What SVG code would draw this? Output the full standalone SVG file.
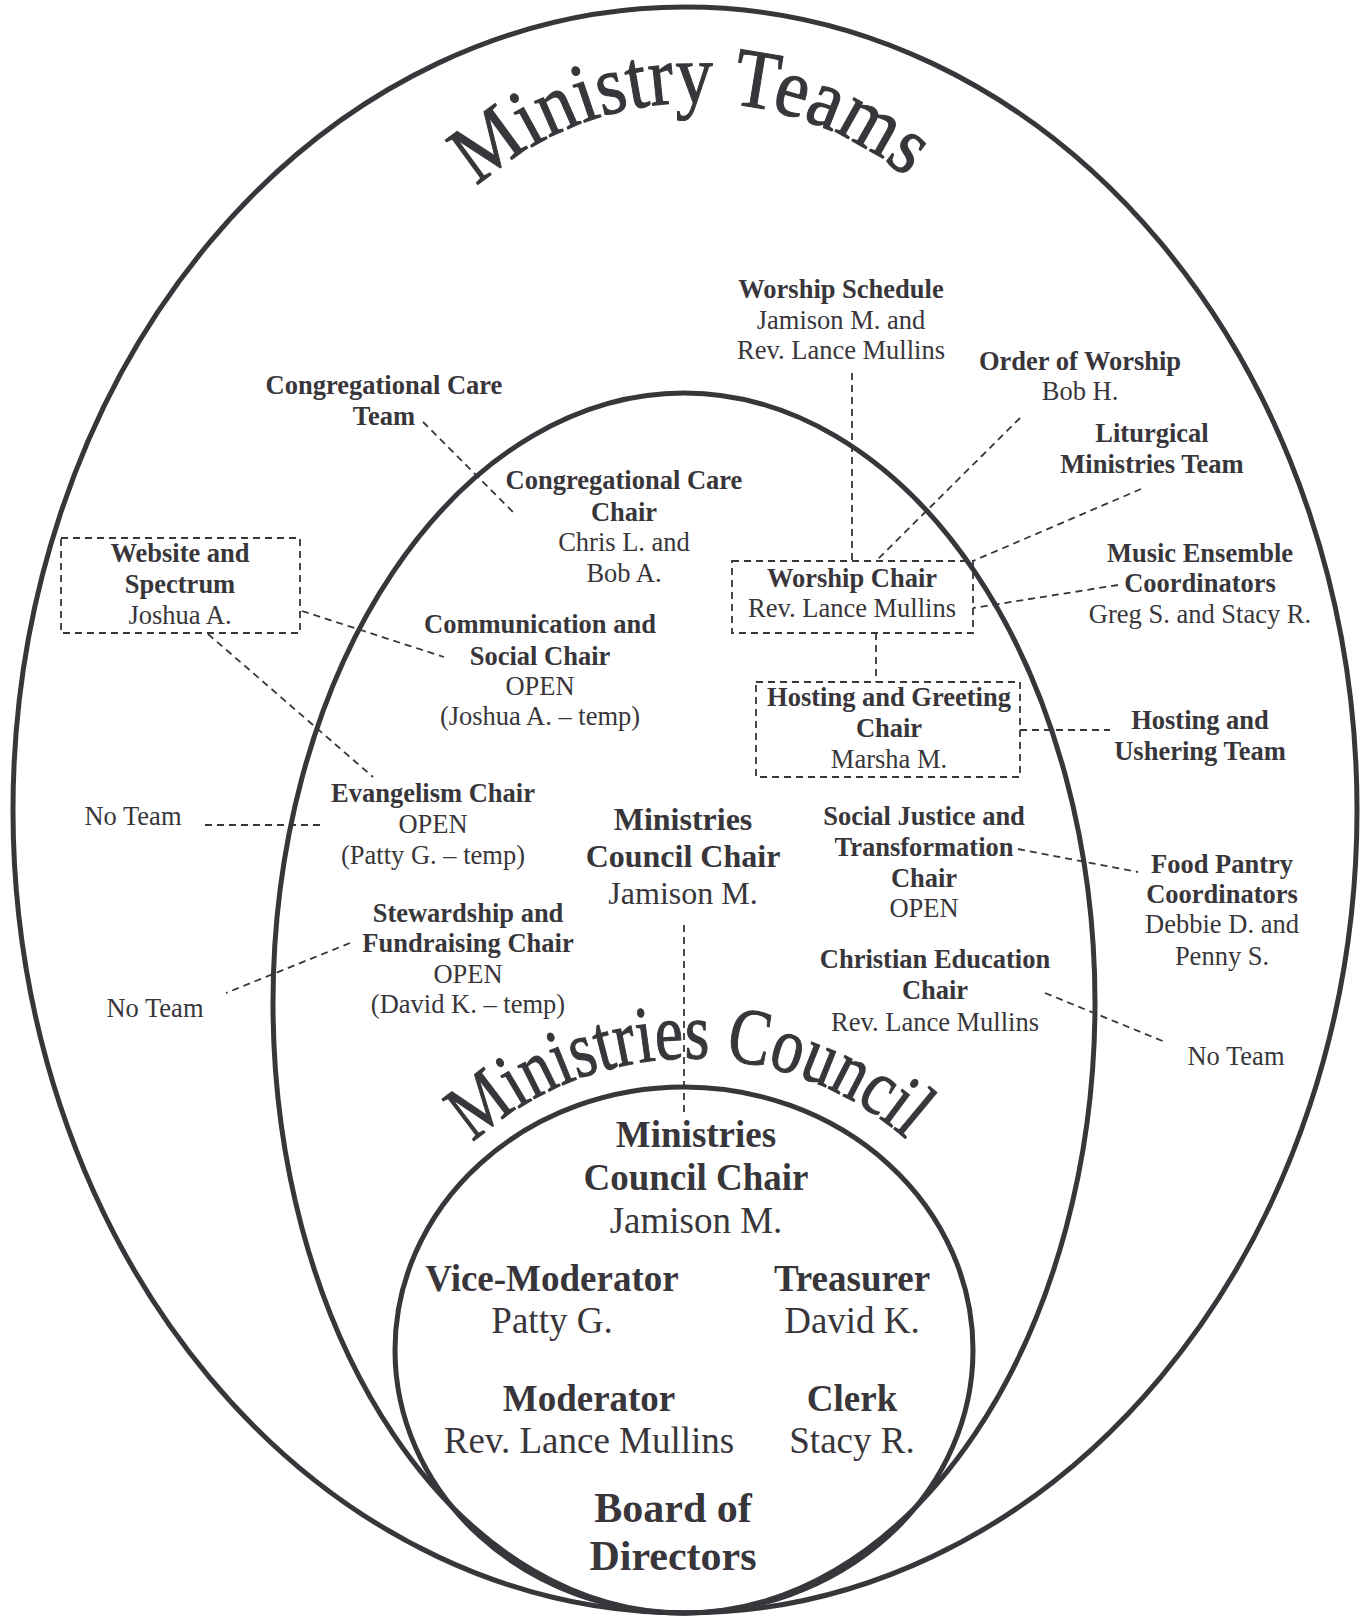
<svg xmlns="http://www.w3.org/2000/svg" width="1369" height="1616" viewBox="0 0 1369 1616">
<style>
text{font-family:"Liberation Serif","Times New Roman",serif;fill:#38363a;text-anchor:middle}
.b{font-weight:bold;font-size:26.5px}
.r{font-size:26.5px}
.mb{font-weight:bold;font-size:32px}
.mr{font-size:32px}
.lb{font-weight:bold;font-size:37px}
.lr{font-size:37px}
.xb{font-weight:bold;font-size:42px}
.ring{fill:none;stroke:#38363a;stroke-width:5}
.dl{fill:none;stroke:#38363a;stroke-width:1.8;stroke-dasharray:7 5}
.arc{text-anchor:start;stroke:#38363a;stroke-width:1.1}
</style>
<defs>
<path id="arcTeams" d="M 477 187 A 329 329 0 0 1 907 178"/>
<path id="arcCouncil" d="M 473 1143 A 325 325 0 0 1 907 1140"/>
</defs>
<rect width="1369" height="1616" fill="#ffffff"/>
<g id="rings">
<ellipse class="ring" cx="685" cy="810" rx="672" ry="803"/>
<ellipse class="ring" cx="684" cy="1003" rx="411" ry="610"/>
<ellipse class="ring" cx="684" cy="1350" rx="289" ry="263"/>
</g>
<g id="titles">
<text class="arc" style="font-size:84px"><textPath href="#arcTeams" textLength="468" lengthAdjust="spacingAndGlyphs">Ministry Teams</textPath></text>
<text class="arc" style="font-size:80px"><textPath href="#arcCouncil" textLength="474" lengthAdjust="spacingAndGlyphs">Ministries Council</textPath></text>
</g>
<g id="connectors">
<line class="dl" x1="423" y1="422" x2="515" y2="514"/>
<line class="dl" x1="852" y1="373" x2="852" y2="561"/>
<line class="dl" x1="1020" y1="418" x2="876" y2="561"/>
<line class="dl" x1="1141" y1="489" x2="973" y2="561"/>
<line class="dl" x1="1118" y1="585" x2="973" y2="608"/>
<line class="dl" x1="876" y1="633" x2="876" y2="682"/>
<line class="dl" x1="1020" y1="730" x2="1110" y2="730"/>
<line class="dl" x1="302" y1="611" x2="444" y2="657"/>
<line class="dl" x1="208" y1="634" x2="373" y2="777"/>
<line class="dl" x1="205" y1="825" x2="324" y2="825"/>
<line class="dl" x1="350" y1="943" x2="226" y2="993"/>
<line class="dl" x1="1018" y1="849" x2="1138" y2="872"/>
<line class="dl" x1="1045" y1="993" x2="1165" y2="1042"/>
<line class="dl" x1="684" y1="925" x2="684" y2="1114"/>
</g>
<g id="worship-schedule">
<text class="b" x="841" y="298">Worship Schedule</text>
<text class="r" x="841" y="329">Jamison M. and</text>
<text class="r" x="841" y="359">Rev. Lance Mullins</text>
</g>
<g id="order-of-worship">
<text class="b" x="1080" y="370">Order of Worship</text>
<text class="r" x="1080" y="400">Bob H.</text>
</g>
<g id="liturgical">
<text class="b" x="1152" y="442">Liturgical</text>
<text class="b" x="1152" y="473">Ministries Team</text>
</g>
<g id="music-ensemble">
<text class="b" x="1200" y="562">Music Ensemble</text>
<text class="b" x="1200" y="592">Coordinators</text>
<text class="r" x="1200" y="623">Greg S. and Stacy R.</text>
</g>
<g id="congregational-care-team">
<text class="b" x="384" y="394">Congregational Care</text>
<text class="b" x="384" y="425">Team</text>
</g>
<g id="congregational-care-chair">
<text class="b" x="624" y="489">Congregational Care</text>
<text class="b" x="624" y="521">Chair</text>
<text class="r" x="624" y="551">Chris L. and</text>
<text class="r" x="624" y="582">Bob A.</text>
</g>
<g id="website">
<rect class="dl" x="61" y="538" width="239" height="95"/>
<text class="b" x="180" y="562">Website and</text>
<text class="b" x="180" y="593">Spectrum</text>
<text class="r" x="180" y="624">Joshua A.</text>
</g>
<g id="communication">
<text class="b" x="540" y="633">Communication and</text>
<text class="b" x="540" y="665">Social Chair</text>
<text class="r" x="540" y="695">OPEN</text>
<text class="r" x="540" y="725">(Joshua A. – temp)</text>
</g>
<g id="worship-chair">
<rect class="dl" x="732" y="561" width="241" height="72"/>
<text class="b" x="852" y="587">Worship Chair</text>
<text class="r" x="852" y="617">Rev. Lance Mullins</text>
</g>
<g id="hosting-greeting">
<rect class="dl" x="756" y="682" width="264" height="95"/>
<text class="b" x="889" y="706">Hosting and Greeting</text>
<text class="b" x="889" y="737">Chair</text>
<text class="r" x="889" y="768">Marsha M.</text>
</g>
<g id="hosting-ushering">
<text class="b" x="1200" y="729">Hosting and</text>
<text class="b" x="1200" y="760">Ushering Team</text>
</g>
<g id="evangelism">
<text class="b" x="433" y="802">Evangelism Chair</text>
<text class="r" x="433" y="833">OPEN</text>
<text class="r" x="433" y="864">(Patty G. – temp)</text>
</g>
<g id="no-team-1"><text class="r" x="133" y="825">No Team</text></g>
<g id="council-chair">
<text class="mb" x="683" y="830">Ministries</text>
<text class="mb" x="683" y="867">Council Chair</text>
<text class="mr" x="683" y="904">Jamison M.</text>
</g>
<g id="social-justice">
<text class="b" x="924" y="825">Social Justice and</text>
<text class="b" x="924" y="856">Transformation</text>
<text class="b" x="924" y="887">Chair</text>
<text class="r" x="924" y="917">OPEN</text>
</g>
<g id="food-pantry">
<text class="b" x="1222" y="873">Food Pantry</text>
<text class="b" x="1222" y="903">Coordinators</text>
<text class="r" x="1222" y="933">Debbie D. and</text>
<text class="r" x="1222" y="965">Penny S.</text>
</g>
<g id="stewardship">
<text class="b" x="468" y="922">Stewardship and</text>
<text class="b" x="468" y="952">Fundraising Chair</text>
<text class="r" x="468" y="983">OPEN</text>
<text class="r" x="468" y="1013">(David K. – temp)</text>
</g>
<g id="no-team-2"><text class="r" x="155" y="1017">No Team</text></g>
<g id="christian-education">
<text class="b" x="935" y="968">Christian Education</text>
<text class="b" x="935" y="999">Chair</text>
<text class="r" x="935" y="1031">Rev. Lance Mullins</text>
</g>
<g id="no-team-3"><text class="r" x="1236" y="1065">No Team</text></g>
<g id="board-chair">
<text class="lb" x="696" y="1147">Ministries</text>
<text class="lb" x="696" y="1190">Council Chair</text>
<text class="lr" x="696" y="1233">Jamison M.</text>
</g>
<g id="vice-moderator">
<text class="lb" x="552" y="1291">Vice-Moderator</text>
<text class="lr" x="552" y="1333">Patty G.</text>
</g>
<g id="treasurer">
<text class="lb" x="852" y="1291">Treasurer</text>
<text class="lr" x="852" y="1333">David K.</text>
</g>
<g id="moderator">
<text class="lb" x="589" y="1411">Moderator</text>
<text class="lr" x="589" y="1453">Rev. Lance Mullins</text>
</g>
<g id="clerk">
<text class="lb" x="852" y="1411">Clerk</text>
<text class="lr" x="852" y="1453">Stacy R.</text>
</g>
<g id="board">
<text class="xb" x="673" y="1522">Board of</text>
<text class="xb" x="673" y="1570">Directors</text>
</g>
</svg>
